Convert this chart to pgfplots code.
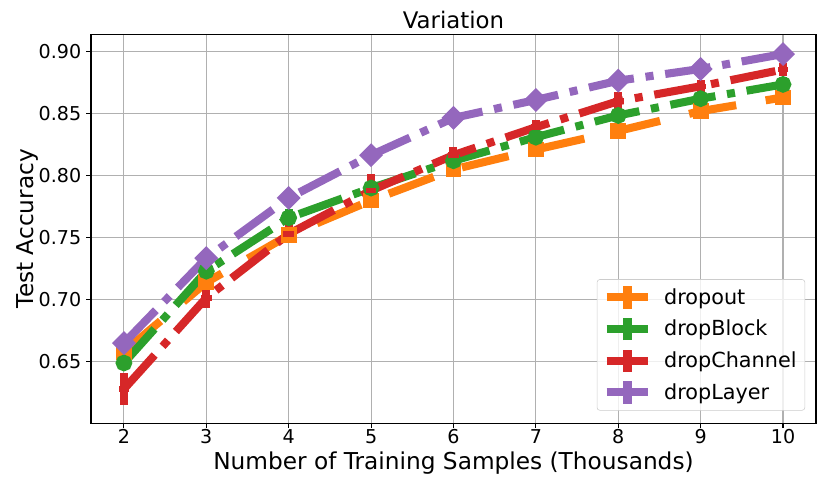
\documentclass[border=0pt]{standalone}
\usepackage{pgfplots}
\pgfplotsset{compat=1.18}
\usepackage{pgfplotstable}
\usepackage{fontspec}
\setmainfont{DejaVu Sans}
\definecolor{tabOrange}{HTML}{FF7F0E}
\definecolor{tabGreen}{HTML}{2CA02C}
\definecolor{tabRed}{HTML}{D62728}
\definecolor{tabPurple}{HTML}{9467BD}
\definecolor{gridgray}{HTML}{B0B0B0}

\pgfplotstableread{
x y e
2 0.658 0.004
3 0.714 0.005
4 0.752 0.005
5 0.780 0.005
6 0.805 0.005
7 0.821 0.005
8 0.836 0.006
9 0.852 0.005
10 0.863 0.006
}\dropout
\pgfplotstableread{
x y e
2 0.649 0.006
3 0.723 0.005
4 0.766 0.007
5 0.790 0.005
6 0.812 0.005
7 0.831 0.005
8 0.8485 0.0055
9 0.862 0.006
10 0.8735 0.006
}\dropblock
\pgfplotstableread{
x y e
2 0.628 0.013
3 0.7015 0.0085
4 0.753 0.007
5 0.788 0.013
6 0.8165 0.0065
7 0.839 0.006
8 0.860 0.007
9 0.872 0.005
10 0.8855 0.0055
}\dropchannel
\pgfplotstableread{
x y e
2 0.665 0.004
3 0.7335 0.005
4 0.782 0.005
5 0.8165 0.004
6 0.8465 0.004
7 0.861 0.004
8 0.8765 0.004
9 0.886 0.004
10 0.898 0.004
}\droplayer

\begin{document}
\begin{tikzpicture}
\pgfplotsset{
  errlegend/.style={
    legend image code/.code={
      \draw[line width=5.8bp,solid] (0bp,0bp) -- (30bp,0bp);
      \draw[line width=5.8bp,solid] (15bp,-8bp) -- (15bp,8bp);
    }
  },
  myerr/.style={
    error bars/.cd, y dir=both, y explicit, error mark=none,
    error bar style={line width=5.8bp, solid}
  }
}
\useasboundingbox (-65.5bp,-44.6bp) rectangle (532.1bp,304.6bp);
\begin{axis}[
  scale only axis,
  width=522bp, height=280bp,
  xmin=1.6, xmax=10.4,
  ymin=0.6006, ymax=0.914,
  xtick={2,3,4,5,6,7,8,9,10},
  ytick={0.65,0.70,0.75,0.80,0.85,0.90},
  yticklabel style={/pgf/number format/.cd, fixed, fixed zerofill, precision=2},
  /pgf/number format/assume math mode=true,
  tick label style={font=\fontsize{13.8}{16}\selectfont},
  xticklabel style={yshift=2.5bp},
  tick align=outside,
  major tick length=3.5bp,
  tick style={black, line width=0.8bp},
  xtick pos=bottom, ytick pos=left,
  grid=major,
  grid style={gridgray, line width=0.8bp},
  axis line style={black, line width=0.8bp},
  every axis title shift=0pt,
  title={Variation},
  title style={font=\fontsize{16.5}{19}\selectfont, at={(axis description cs:0.5,1.036)}, anchor=center},
  xlabel={Number of Training Samples (Thousands)},
  ylabel={Test Accuracy},
  label style={font=\fontsize{16.8}{20}\selectfont},
  xlabel style={at={(axis description cs:0.5,-0.103)}, anchor=center},
  ylabel style={at={(axis description cs:-0.087,0.5)}, anchor=center},
  legend style={
    at={(axis description cs:0.985,0.032)}, anchor=south east,
    draw=gray!40, fill=white, fill opacity=0.8, text opacity=1,
    rounded corners=2bp,
    font=\fontsize{15}{18}\selectfont,
    inner xsep=4bp, inner ysep=2bp,
    row sep=1bp,
    /tikz/every odd column/.append style={column sep=6.5bp},
    /tikz/every even column/.append style={column sep=2bp},
  },
  legend cell align=left,
  errlegend,
]
\addplot[tabOrange, line width=5.8bp, dash pattern=on 34.5bp off 21.5bp,
  mark=square*, mark size=2.8bp, mark options={solid},
  myerr] table[x=x, y=y, y error=e] {\dropout};
\addlegendentry{dropout}
\addplot[tabGreen, line width=5.8bp, dash pattern=on 33bp off 8.5bp on 5.8bp off 8.5bp,
  mark=*, mark size=3bp, mark options={solid},
  myerr] table[x=x, y=y, y error=e] {\dropblock};
\addlegendentry{dropBlock}
\addplot[tabRed, line width=5.8bp, dash pattern=on 33bp off 8.5bp on 5.8bp off 8.5bp,
  mark=-, mark size=3.8bp, mark options={solid, line width=4bp},
  myerr] table[x=x, y=y, y error=e] {\dropchannel};
\addlegendentry{dropChannel}
\addplot[tabPurple, line width=5.8bp, dash pattern=on 33bp off 8.5bp on 5.8bp off 8.5bp,
  mark=square*, mark size=3.2bp, mark options={solid, rotate=45},
  myerr] table[x=x, y=y, y error=e] {\droplayer};
\addlegendentry{dropLayer}
\end{axis}
\end{tikzpicture}
\end{document}
